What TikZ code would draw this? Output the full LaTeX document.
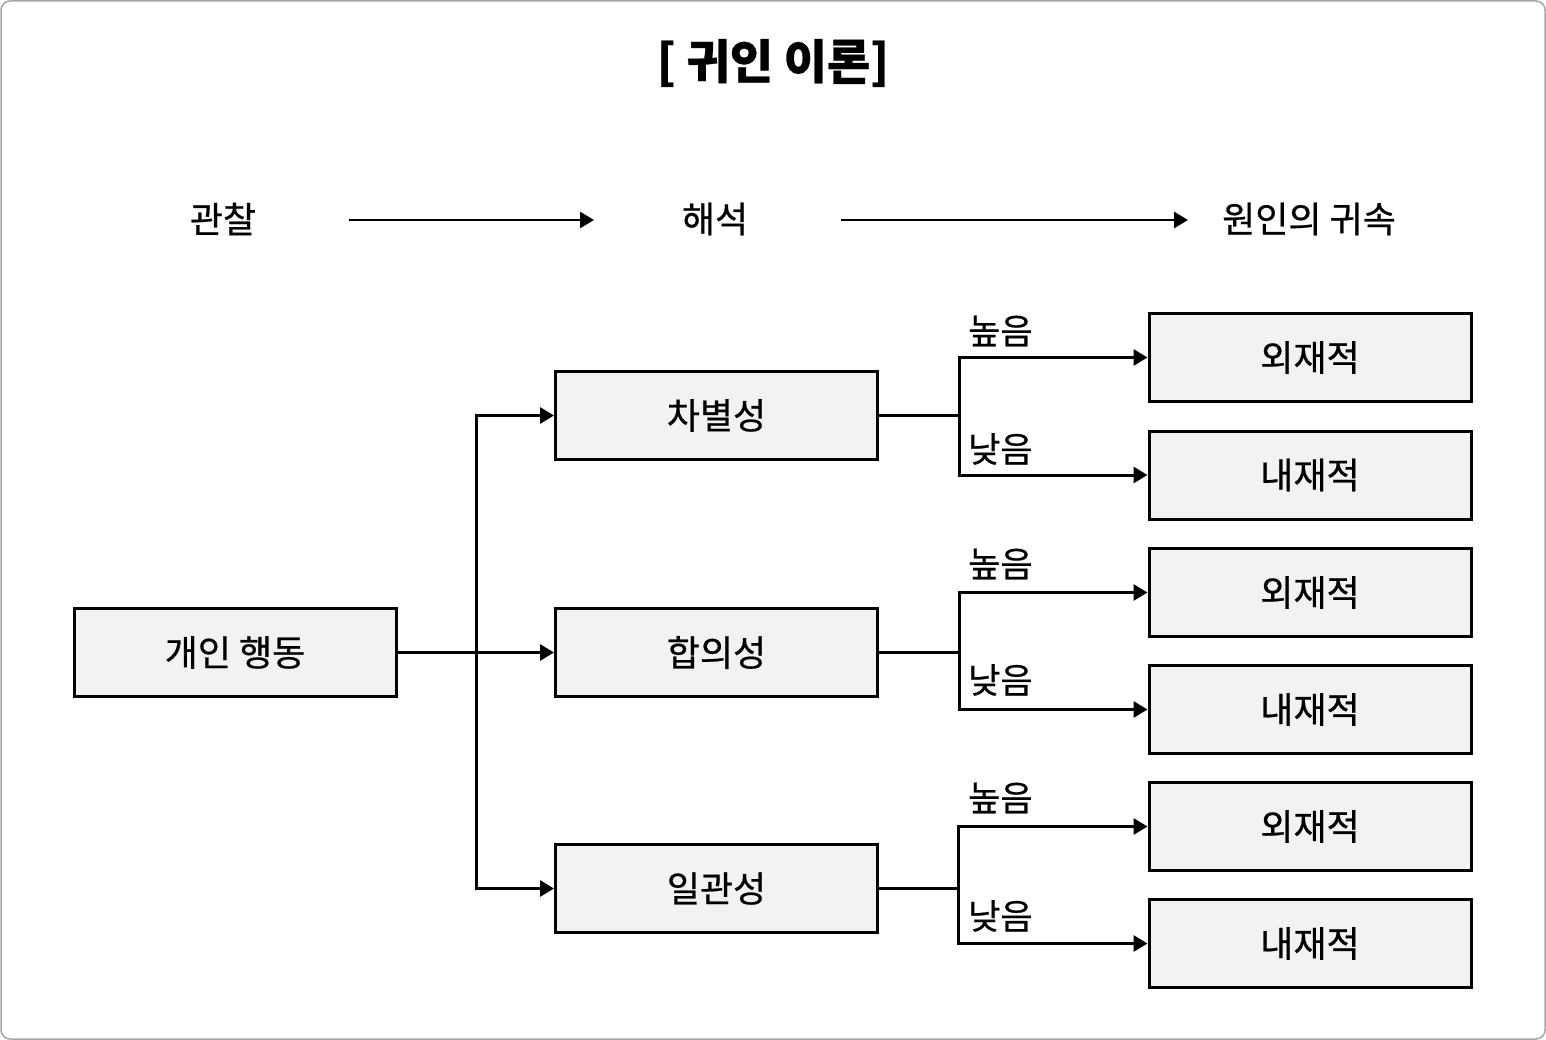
\documentclass[tikz,border=0pt]{standalone}
\usepackage{fontspec}
\setmainfont{Noto Sans CJK KR}[FakeBold=0.6]
\newfontfamily\titlefont{Noto Sans CJK KR}[FakeBold=1.2]
\usetikzlibrary{arrows.meta}
\begin{document}
\begin{tikzpicture}[x=1pt,y=-1pt,
  box/.style={draw=black,line width=3pt,fill=black!5,minimum width=322pt,minimum height=88pt,inner sep=0pt,font=\fontsize{36}{42}\selectfont},
  hdr/.style={font=\fontsize{36}{42}\selectfont},
  lbl/.style={font=\fontsize{35}{40}\selectfont,anchor=west,inner sep=0pt},
  conn/.style={line width=3pt},
  arr/.style={line width=3pt,-{Triangle[length=14pt,width=16pt]}},
  harr/.style={line width=2.6pt,-{Triangle[length=14pt,width=16pt]}}]
\useasboundingbox (0,0) rectangle (1546,1040);
\draw[gray!70,line width=1.5pt,rounded corners=9pt] (1,1) rectangle (1545,1039);
\node[font=\fontsize{47}{54}\selectfont\bfseries] (title) at (773,63) {[ 귀인 이론]};
% header
\node[hdr] (obs) at (223,219) {관찰};
\node[hdr] (interp) at (715,219) {해석};
\node[hdr] (attr) at (1309,219) {원인의 귀속};
\coordinate (a1s) at (349,220); \coordinate (a1e) at (594,220);
\coordinate (a2s) at (841,220); \coordinate (a2e) at (1188,220);
\draw[harr] (a1s) -- (a1e);
\draw[harr] (a2s) -- (a2e);
% boxes
\node[box] (beh) at (235,652.5) {개인 행동};
\node[box] (m1) at (716.5,415.5) {차별성};
\node[box] (m2) at (716.5,652.5) {합의성};
\node[box] (m3) at (716.5,888.5) {일관성};
\node[box] (r1) at (1310,357.5) {외재적};
\node[box] (r2) at (1310,475) {내재적};
\node[box] (r3) at (1310,592.5) {외재적};
\node[box] (r4) at (1310,709.5) {내재적};
\node[box] (r5) at (1310,826.5) {외재적};
\node[box] (r6) at (1310,943.5) {내재적};
% left branch
\coordinate (bx) at (476,652.5);
\draw[conn] (beh.east) -- (bx);
\draw[arr] (bx) -- (m2.west);
\draw[arr] (bx) |- (m1.west);
\draw[arr] (bx) |- (m3.west);
% right branches
\foreach \m/\a/\b/\x in {m1/r1/r2/959, m2/r3/r4/959, m3/r5/r6/958}{
  \draw[conn] (\m.east) -- (\x,0 |- \m.east) coordinate (j\m);
  \draw[arr] (j\m) |- (\a.west);
  \draw[arr] (j\m) |- (\b.west);
}
\node[lbl] (h1) at (968,331) {높음};
\node[lbl] (l1) at (968,449) {낮음};
\node[lbl] (h2) at (968,564) {높음};
\node[lbl] (l2) at (968,680) {낮음};
\node[lbl] (h3) at (968,798) {높음};
\node[lbl] (l3) at (968,916) {낮음};
\end{tikzpicture}
\end{document}
